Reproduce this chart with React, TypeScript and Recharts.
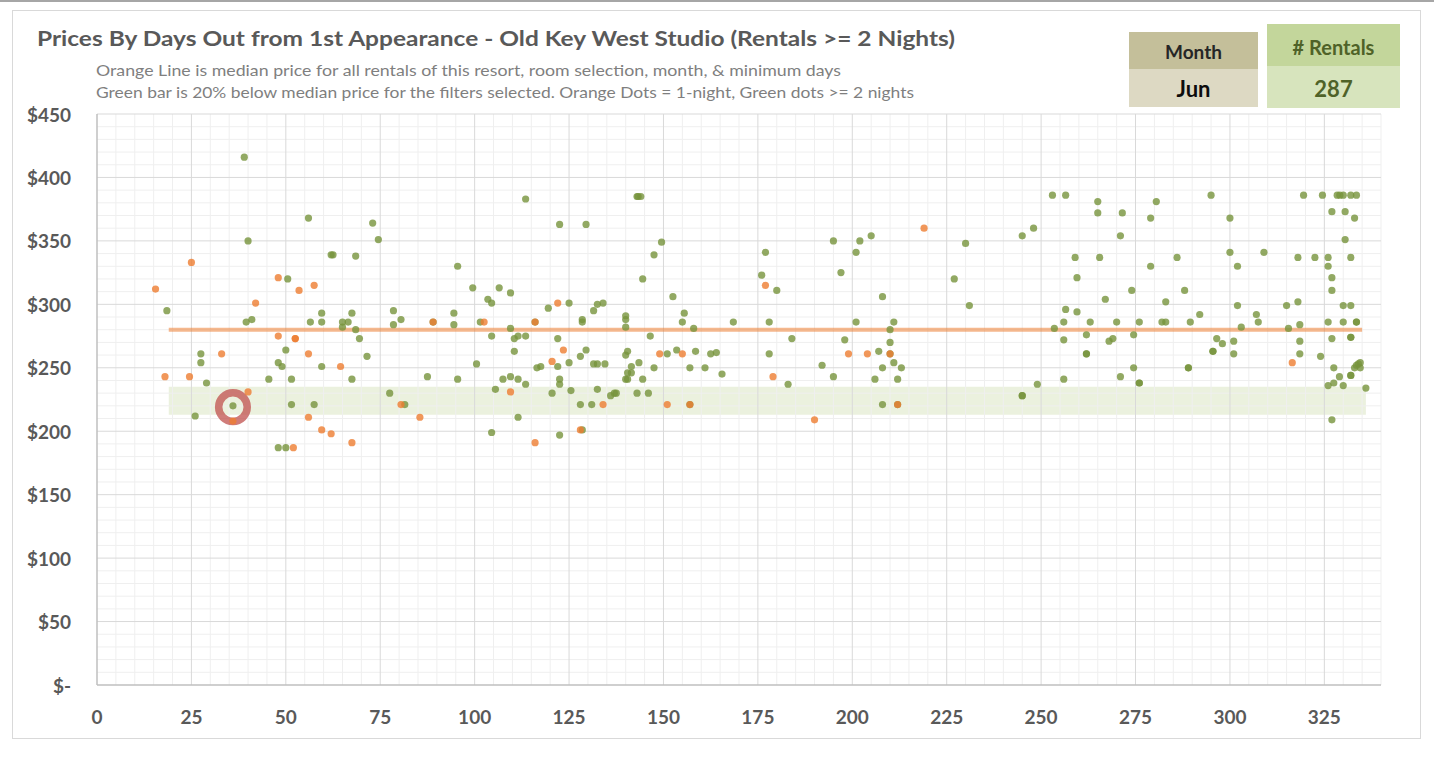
import React from "react";
import {
  ScatterChart,
  Scatter,
  XAxis,
  YAxis,
  ReferenceLine,
  ReferenceArea,
} from "recharts";

// ---------- data ----------
const chartTitle =
  "Prices By Days Out from 1st Appearance - Old Key West Studio (Rentals >= 2 Nights)";
const subtitle1 =
  "Orange Line is median price for all rentals of this resort, room selection, month, & minimum days";
const subtitle2 =
  "Green bar is 20% below median price for the filters selected. Orange Dots = 1-night, Green dots >= 2 nights";

const monthLabel = "Month";
const monthValue = "Jun";
const rentalsLabel = "# Rentals";
const rentalsValue = "287";

const medianPrice = 280;
const bandLow = 213;
const bandHigh = 235;
const lineStart = 19;
const lineEnd = 335;

const xTicks = [0, 25, 50, 75, 100, 125, 150, 175, 200, 225, 250, 275, 300, 325];
const yTicks = [0, 50, 100, 150, 200, 250, 300, 350, 400, 450];
const xMax = 340;
const yMax = 450;

// 1-night rentals (orange)
const oneNight: [number, number][] = [
  [15.5, 312], [25, 333], [48, 321], [57.5, 315], [53.5, 311], [42, 301], [48, 275],
  [52.5, 273], [52.5, 273], [33, 261], [56, 261], [64.5, 251], [18, 243], [24.5, 243],
  [40, 231], [80.5, 221], [36, 208], [56, 211], [85.5, 211], [59.5, 201], [62, 198],
  [67.5, 191], [52, 187],
  [89, 286], [102.5, 286], [109.5, 231], [116, 286], [116, 191], [120.5, 255], [122, 301],
  [123.5, 264], [128, 201], [134, 221], [149, 261], [151, 221], [155, 261], [157, 221],
  [177, 315], [179, 243], [190, 209], [199, 261], [204, 261], [210, 261], [212, 221],
  [219, 360],
  [316.5, 254],
];

// 2+ night rentals (green)
const multiNight: [number, number][] = [
  [39, 416], [56, 368], [73, 364], [74.5, 351], [40, 350], [62, 339], [62.5, 339],
  [68.5, 338], [50.5, 320], [18.5, 295], [59.5, 293], [67.5, 293], [78.5, 295], [39.5, 286],
  [41, 288], [56.5, 286], [59.5, 286], [65, 286], [66.5, 286], [80.5, 288], [78.5, 284],
  [65, 282], [68.5, 280], [69.5, 273], [50, 264], [27.5, 261], [27.5, 254], [71.5, 259],
  [48, 254], [49, 251], [59.5, 251], [29, 238], [45.5, 241], [51.5, 241], [67.5, 241],
  [77.5, 230], [36, 220], [51.5, 221], [57.5, 221], [81.5, 221], [26, 212], [48, 187],
  [50, 187],
  [87.5, 243], [89, 286], [94.5, 293], [94.5, 284], [95.5, 330], [95.5, 241], [99.5, 313],
  [100.5, 253], [101.5, 286], [103.5, 304], [104.5, 301], [104.5, 275], [104.5, 199],
  [105.5, 233], [106.5, 313], [107.5, 241], [109.5, 309], [109.5, 281], [109.5, 243],
  [110.5, 273], [110.5, 263], [111.5, 275], [113.5, 275], [111.5, 241], [111.5, 211],
  [113.5, 383], [113.5, 237], [116, 286], [116.5, 250], [117.5, 251], [119.5, 297],
  [120.5, 230], [122, 273], [122, 251], [122.5, 363], [122.5, 241], [122.5, 237],
  [122.5, 197], [125, 301], [125, 254], [125.5, 232], [128, 259], [128, 221], [128.5, 201],
  [128.5, 288], [128.5, 286], [129.5, 363], [129.5, 264], [131, 221], [131.5, 295],
  [131.5, 253], [132.5, 253], [134.5, 253], [132.5, 300], [134, 301], [132.5, 233],
  [136, 228], [137, 230], [137.5, 230], [140, 291], [140, 288], [140, 282], [140, 260],
  [140.5, 263], [140.5, 246], [141.5, 251], [141.5, 246], [140, 241], [140.5, 241],
  [143, 230], [143, 385], [143.3, 385], [144, 385], [143.5, 254], [144.5, 320], [144.5, 241],
  [146, 230], [146.5, 275], [147.5, 339], [147.5, 250], [149.5, 349], [151, 261],
  [152.5, 306], [153.5, 264], [155, 286], [155.5, 293], [157, 250], [157, 221], [158, 281],
  [158.5, 263], [161, 250], [162.5, 261], [164, 262], [165.5, 245], [168.5, 286],
  [177, 341], [176, 323], [178, 286], [178, 261], [180, 311], [183, 237], [184, 273],
  [192, 252], [195, 350], [195, 243], [197, 325], [198, 272], [201, 341], [201, 286],
  [202, 350], [205, 354], [206, 241], [207, 263], [208, 306], [208, 250], [208, 221],
  [210, 280], [210, 270], [210, 261], [211, 286], [211, 254], [212, 241], [212, 221],
  [213, 250], [227, 320], [230, 348], [231, 299], [245, 354], [245, 228], [245, 228],
  [248, 360], [249, 237], [253, 386], [256.5, 386], [256.5, 296], [256, 286], [253.5, 281],
  [256, 272], [256, 241],
  [259, 337], [259.5, 321], [259.5, 294], [262, 276], [262, 261], [262, 261], [263, 286],
  [265, 381], [265, 372], [265.5, 337], [267, 304], [268, 271], [269, 273], [270, 286],
  [271, 354], [271, 243], [271.5, 372], [274, 311], [274.5, 276], [274.5, 250], [276, 286],
  [276, 238], [276, 238], [279, 368], [279, 330], [280.5, 381], [282, 286], [283, 286],
  [283, 302], [286, 337], [288, 311], [289, 250], [289, 250], [289.5, 286], [292, 292],
  [295, 386], [295.5, 263], [295.5, 263], [296.5, 273], [298, 269], [300, 368], [300, 341],
  [302, 330], [302, 299], [301, 271], [301, 261], [303, 282], [307, 292], [307.5, 286],
  [309, 341], [315, 299], [315.5, 281], [318, 337], [318, 302], [318.5, 284], [318.5, 271],
  [318.5, 261], [319.5, 386], [322.5, 337], [324, 259], [324.5, 386], [326, 337], [326, 330],
  [326, 286], [326, 236], [327, 373], [327, 321], [327, 311], [327, 273], [327, 209],
  [327.5, 250], [327.5, 238], [328.4, 386], [329.1, 386], [330, 386], [329, 243], [330, 299],
  [330, 286], [330, 236], [330.5, 373], [330.5, 351], [332, 386], [333.5, 386], [332, 337],
  [332, 299], [332, 274], [332, 274], [332, 244], [332, 244], [333, 368], [333.5, 286],
  [333.5, 286], [333, 250], [333.5, 252], [334, 253], [334.5, 254], [334.5, 250], [336, 234],
];

const highlighted: [number, number][] = [[36, 219]];

// ---------- helpers ----------
const toPoints = (arr: [number, number][]) => arr.map(([x, y]) => ({ x, y }));
const xMinor = Array.from({ length: xMax / 5 }, (_, i) => (i + 1) * 5).filter(
  (v) => v % 25 !== 0
);
const yMinor = Array.from({ length: yMax / 10 }, (_, i) => (i + 1) * 10).filter(
  (v) => v % 50 !== 0
);

const FONT = "Lato, 'Open Sans', sans-serif";
const TICK_COLOR = "#595959";

const fmtPrice = (v: number) => (v === 0 ? "$-" : `$${v}`);

const YTick = (props: any) => {
  const { y, payload } = props;
  return (
    <text
      x={71}
      y={y}
      textAnchor="end"
      dominantBaseline="central"
      fontFamily={FONT}
      fontWeight={700}
      fontSize={19}
      fill={TICK_COLOR}
    >
      {fmtPrice(payload.value)}
    </text>
  );
};

const XTick = (props: any) => {
  const { x, payload } = props;
  return (
    <text
      x={x}
      y={716}
      textAnchor="middle"
      dominantBaseline="central"
      fontFamily={FONT}
      fontWeight={700}
      fontSize={19}
      fill={TICK_COLOR}
    >
      {payload.value}
    </text>
  );
};

const dot = (fill: string) => (props: any) =>
  (
    <circle cx={props.cx} cy={props.cy} r={3.6} fill={fill} fillOpacity={0.8} />
  );

const ring = (props: any) => (
  <circle
    cx={props.cx}
    cy={props.cy}
    r={14.3}
    fill="none"
    stroke="#c0504d"
    strokeOpacity={0.75}
    strokeWidth={7.5}
  />
);

export default function App() {
  return (
    <div
      style={{
        position: "absolute",
        left: 0,
        top: 0,
        width: 1434,
        height: 759,
        background: "#ffffff",
        overflow: "hidden",
      }}
    >
      <div
        style={{
          position: "absolute",
          left: 0,
          top: 0,
          width: 1434,
          height: 2,
          background: "#a6a6a6",
        }}
      />
      <div
        style={{
          position: "absolute",
          left: 12,
          top: 10,
          width: 1407,
          height: 727,
          border: "1px solid #d9d9d9",
        }}
      />
      <div style={{ position: "absolute", left: 0, top: 0 }}>
        <ScatterChart
          width={1434}
          height={759}
          margin={{ top: 114, right: 53, bottom: 0, left: 0 }}
        >
          <XAxis
            type="number"
            dataKey="x"
            domain={[0, xMax]}
            ticks={xTicks}
            interval={0}
            tickLine={false}
            axisLine={{ stroke: "#bfbfbf", strokeWidth: 1.5 }}
            tick={<XTick />}
            height={74}
            allowDataOverflow
          />
          <YAxis
            type="number"
            dataKey="y"
            domain={[0, yMax]}
            ticks={yTicks}
            interval={0}
            tickLine={false}
            axisLine={{ stroke: "#bfbfbf", strokeWidth: 1.5 }}
            tick={<YTick />}
            width={97}
            allowDataOverflow
          />
          <ReferenceArea
            x1={lineStart}
            x2={lineEnd + 1}
            y1={bandLow}
            y2={bandHigh}
            fill="#9bbb59"
            fillOpacity={0.2}
            stroke="none"
          />
          {xMinor.map((v) => (
            <ReferenceLine key={`xm${v}`} x={v} stroke="#efefef" strokeWidth={1} />
          ))}
          {yMinor.map((v) => (
            <ReferenceLine key={`ym${v}`} y={v} stroke="#efefef" strokeWidth={1} />
          ))}
          {xTicks
            .filter((v) => v > 0)
            .map((v) => (
              <ReferenceLine key={`xM${v}`} x={v} stroke="#d9d9d9" strokeWidth={1} />
            ))}
          {yTicks
            .filter((v) => v > 0)
            .map((v) => (
              <ReferenceLine key={`yM${v}`} y={v} stroke="#d9d9d9" strokeWidth={1} />
            ))}
          <ReferenceLine
            segment={[
              { x: lineStart, y: medianPrice },
              { x: lineEnd, y: medianPrice },
            ]}
            stroke="#ed7d31"
            strokeOpacity={0.55}
            strokeWidth={4}
          />
          <Scatter
            name="highlight"
            data={toPoints(highlighted)}
            shape={ring}
            isAnimationActive={false}
          />
          <Scatter
            name="2+ nights"
            data={toPoints(multiNight)}
            shape={dot("#77933c")}
            isAnimationActive={false}
          />
          <Scatter
            name="1 night"
            data={toPoints(oneNight)}
            shape={dot("#ed7d31")}
            isAnimationActive={false}
          />
        </ScatterChart>
      </div>

      <svg
        width={1434}
        height={120}
        style={{ position: "absolute", left: 0, top: 0, pointerEvents: "none" }}
      >
        <text
          x={37}
          y={46}
          fontFamily={FONT}
          fontWeight={700}
          fontSize={21}
          fill="#595959"
          textLength={918}
          lengthAdjust="spacingAndGlyphs"
        >
          {chartTitle}
        </text>
        <text
          x={96}
          y={76}
          fontFamily={FONT}
          fontSize={15}
          fill="#7f7f7f"
          textLength={745}
          lengthAdjust="spacingAndGlyphs"
        >
          {subtitle1}
        </text>
        <text
          x={96}
          y={98}
          fontFamily={FONT}
          fontSize={15}
          fill="#7f7f7f"
          textLength={818}
          lengthAdjust="spacingAndGlyphs"
        >
          {subtitle2}
        </text>

        <rect x={1129} y={32} width={129} height={37} fill="#c4bf9a" />
        <rect x={1129} y={69} width={129} height={38} fill="#ddd9c3" />
        <text
          x={1193.5}
          y={51}
          textAnchor="middle"
          dominantBaseline="central"
          fontFamily={FONT}
          fontWeight={700}
          fontSize={19}
          fill="#262626"
        >
          {monthLabel}
        </text>
        <text
          x={1193.5}
          y={88}
          textAnchor="middle"
          dominantBaseline="central"
          fontFamily={FONT}
          fontWeight={700}
          fontSize={22}
          fill="#0d0d0d"
        >
          {monthValue}
        </text>

        <rect x={1267} y={24} width={133} height={42} fill="#c3d69b" />
        <rect x={1267} y={66} width={133} height={42} fill="#d7e4bd" />
        <text
          x={1333.5}
          y={47}
          textAnchor="middle"
          dominantBaseline="central"
          fontFamily={FONT}
          fontWeight={700}
          fontSize={20}
          fill="#4f6228"
        >
          {rentalsLabel}
        </text>
        <text
          x={1333.5}
          y={88}
          textAnchor="middle"
          dominantBaseline="central"
          fontFamily={FONT}
          fontWeight={700}
          fontSize={22}
          fill="#4f6228"
        >
          {rentalsValue}
        </text>
      </svg>
    </div>
  );
}
